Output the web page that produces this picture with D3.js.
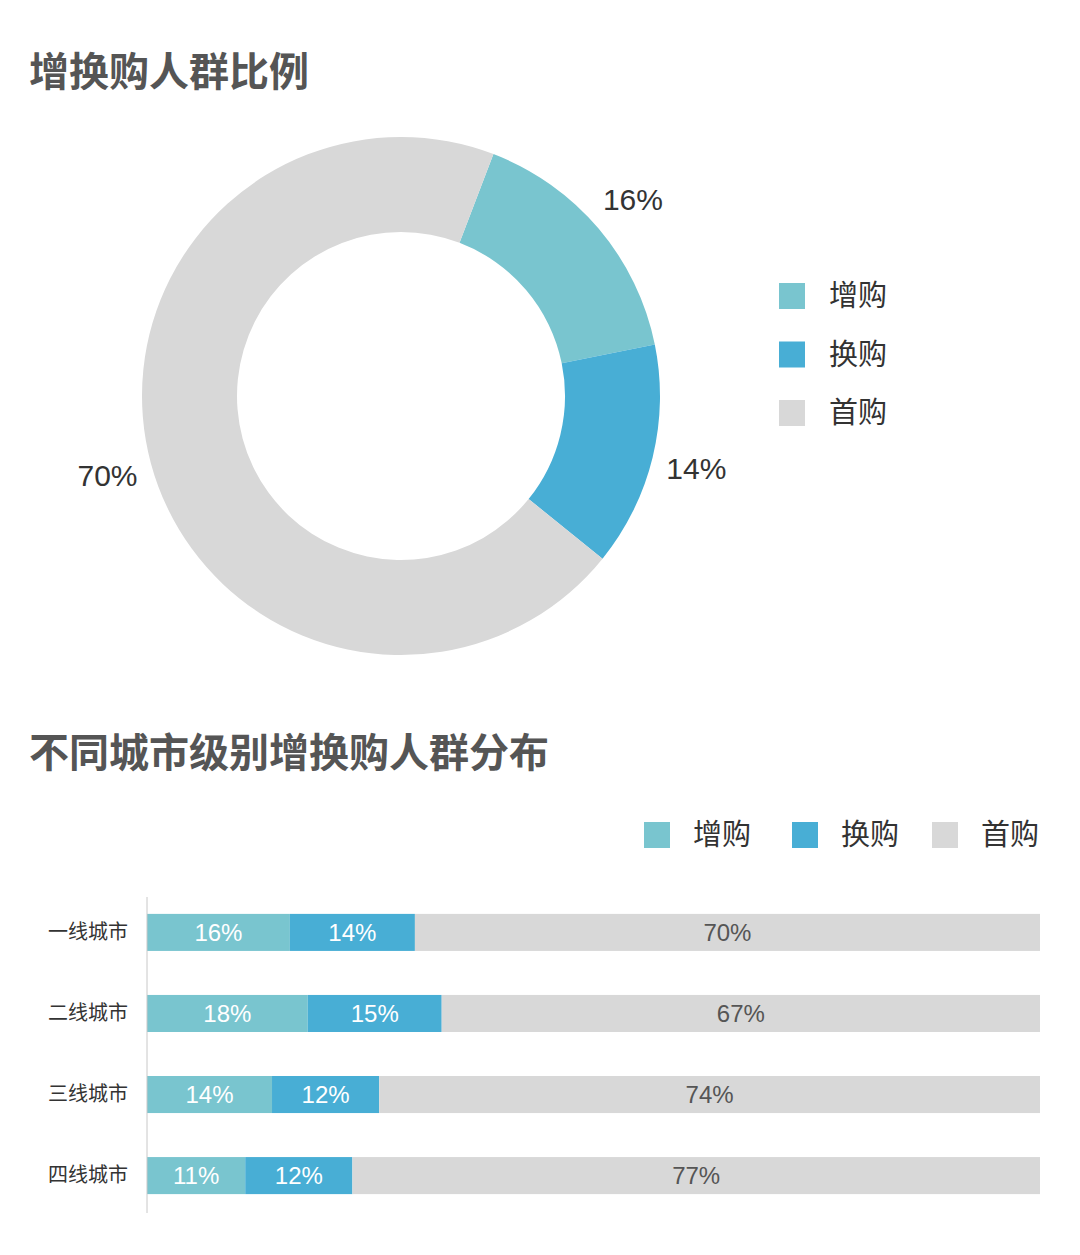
<html>
<head>
<meta charset="utf-8">
<title>增换购人群比例</title>
<script src="https://d3js.org/d3.v7.min.js"></script>
<style>
  body { margin: 0; background: #fff; }
  .title { font-family: "Noto Sans CJK SC", sans-serif; font-weight: bold; fill: #555; font-size: 40px; }
  .legend text { font-family: "Noto Sans CJK SC", sans-serif; fill: #333; font-size: 29px; }
  .num { font-family: "Liberation Sans", Arial, sans-serif; }
  .cat { font-family: "Noto Sans CJK SC", sans-serif; fill: #333; font-size: 20px; }
</style>
</head>
<body>
<div id="chart"></div>
<script>
// data
var types = ["增购", "换购", "首购"];
var totalShare = [16, 14, 70];
var cities = ["一线城市", "二线城市", "三线城市", "四线城市"];
var addShare = [16, 18, 14, 11];
var swapShare = [14, 15, 12, 12];
var firstShare = [70, 67, 74, 77];

var colors = ["#79c5cf", "#48aed5", "#d8d8d8"];

var svg = d3.select("#chart").append("svg")
    .attr("width", 1080)
    .attr("height", 1255);

// titles
svg.append("text").attr("class", "title").attr("x", 29).attr("y", 86).text("增换购人群比例");
svg.append("text").attr("class", "title").attr("x", 29).attr("y", 767).text("不同城市级别增换购人群分布");

// ---- donut ----
var cx = 401, cy = 396;
var startA = 0.365;
var pie = d3.pie().sort(null).value(function(d) { return d; })
    .startAngle(startA).endAngle(startA + 2 * Math.PI);
var arc = d3.arc().innerRadius(164).outerRadius(259);
var labelArc = d3.arc().innerRadius(304).outerRadius(304);

var donut = svg.append("g").attr("transform", "translate(" + cx + "," + cy + ")");
var arcs = pie(totalShare);

donut.selectAll("path")
  .data(arcs)
  .enter().append("path")
    .attr("d", arc)
    .attr("fill", function(d, i) { return colors[i]; });

donut.selectAll("text")
  .data(arcs)
  .enter().append("text")
    .attr("class", "num")
    .attr("transform", function(d) { return "translate(" + labelArc.centroid(d) + ")"; })
    .attr("text-anchor", "middle")
    .attr("dy", "0.36em")
    .attr("fill", "#333")
    .attr("font-size", 30)
    .text(function(d) { return d.data + "%"; });

// donut legend
var leg1 = svg.append("g").attr("class", "legend");
var legY = d3.scalePoint().domain(types).range([296, 413]);
leg1.selectAll("rect")
  .data(types)
  .enter().append("rect")
    .attr("x", 779)
    .attr("y", function(d) { return legY(d) - 13; })
    .attr("width", 26).attr("height", 26)
    .attr("fill", function(d, i) { return colors[i]; });
leg1.selectAll("text")
  .data(types)
  .enter().append("text")
    .attr("x", 829)
    .attr("y", function(d) { return legY(d); })
    .attr("dy", "0.36em")
    .text(function(d) { return d; });

// ---- stacked bars ----
var x = d3.scaleLinear().domain([0, 100]).range([147, 1040]);
var y = d3.scaleBand().domain(cities).range([892, 1216]).paddingInner(0.543).paddingOuter(0.27);

var rows = cities.map(function(c, i) {
  return { city: c, "增购": addShare[i], "换购": swapShare[i], "首购": firstShare[i] };
});
var stack = d3.stack().keys(types)(rows);

var bars = svg.append("g");
bars.selectAll("g")
  .data(stack)
  .enter().append("g")
    .attr("fill", function(d, i) { return colors[i]; })
  .selectAll("rect")
  .data(function(d) { return d; })
  .enter().append("rect")
    .attr("x", function(d) { return x(d[0]); })
    .attr("y", function(d) { return y(d.data.city); })
    .attr("width", function(d) { return x(d[1]) - x(d[0]); })
    .attr("height", y.bandwidth());

var labels = svg.append("g");
stack.forEach(function(layer, li) {
  labels.selectAll(".l" + li)
    .data(layer)
    .enter().append("text")
      .attr("class", "num l" + li)
      .attr("x", function(d) { return (x(d[0]) + x(d[1])) / 2; })
      .attr("y", function(d) { return y(d.data.city) + y.bandwidth() / 2; })
      .attr("dy", "0.36em")
      .attr("text-anchor", "middle")
      .attr("font-size", 24)
      .attr("fill", li === 2 ? "#555" : "#fff")
      .text(function(d) { return (d[1] - d[0]) + "%"; });
});

// y axis
var yAxis = svg.append("g")
    .attr("transform", "translate(147,0)")
    .call(d3.axisLeft(y).tickSize(0).tickPadding(19));
yAxis.select(".domain").attr("stroke", "#c8c8c8").attr("d", "M0,897V1213");
yAxis.selectAll("text").attr("class", "cat").attr("font-size", null).attr("font-family", null);

// bar legend
var leg2 = svg.append("g").attr("class", "legend");
var legX = [644, 792, 932];
leg2.selectAll("rect")
  .data(types)
  .enter().append("rect")
    .attr("x", function(d, i) { return legX[i]; })
    .attr("y", 822)
    .attr("width", 26).attr("height", 26)
    .attr("fill", function(d, i) { return colors[i]; });
leg2.selectAll("text")
  .data(types)
  .enter().append("text")
    .attr("x", function(d, i) { return legX[i] + 49; })
    .attr("y", 835)
    .attr("dy", "0.36em")
    .text(function(d) { return d; });
</script>
</body>
</html>
